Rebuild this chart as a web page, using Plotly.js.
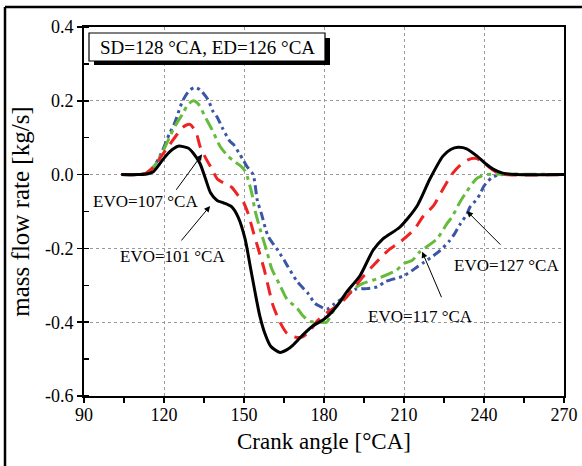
<!DOCTYPE html>
<html>
<head>
<meta charset="utf-8">
<script src="https://cdn.plot.ly/plotly-3.0.1.min.js"></script>
<style>html,body{margin:0;padding:0;background:#fff;}#chart{width:582px;height:466px;}</style>
</head>
<body>
<div id="chart"></div>
<script>
// ---- data ----
const seriesNames = ["EVO=101 °CA", "EVO=107 °CA", "EVO=117 °CA", "EVO=127 °CA"];

const xBlack = [104,110,113,116,119.6,122.3,125.3,129,131,133.5,135.5,137.5,139.9,142.5,145.5,147.8,150.4,152.3,154.1,155.9,157.9,160,163.5,166,168.4,172,176,180,183,186,188.6,193.5,198.4,202.1,208.5,214.9,219.7,224.6,227.5,230.3,233.5,237.4,240.5,243.4,247,252,270];
const yBlack = [0,0,0.001,0.008,0.041,0.063,0.077,0.072,0.058,0.03,-0.01,-0.05,-0.07,-0.077,-0.088,-0.115,-0.174,-0.247,-0.317,-0.382,-0.432,-0.465,-0.482,-0.475,-0.462,-0.435,-0.409,-0.392,-0.372,-0.345,-0.317,-0.274,-0.205,-0.174,-0.142,-0.085,-0.012,0.05,0.068,0.074,0.07,0.05,0.03,0.015,0.004,0,0];

const xRed = [104,110,113,116,119,122,125,127,129.7,132,133.5,136,138,140,143,145.5,147.4,149.6,151.5,153.4,155.5,157.5,160.9,163.5,166.1,169,172,175,177.7,181,185,188,194,198,204,209,214,217,221,224,228,231,234,236.5,239,242,245,248,270];
const yRed = [0,0,0.003,0.02,0.05,0.08,0.11,0.128,0.136,0.115,0.077,0.04,0.015,-0.012,-0.025,-0.035,-0.053,-0.072,-0.105,-0.153,-0.205,-0.255,-0.355,-0.4,-0.43,-0.44,-0.44,-0.42,-0.395,-0.375,-0.355,-0.336,-0.282,-0.25,-0.206,-0.18,-0.147,-0.115,-0.085,-0.047,0.001,0.025,0.04,0.044,0.038,0.02,0.005,0,0];

const xGreen = [104,110,113,116,119,122,124,127,129,131,133,135.4,138,141,144,146.5,148.5,150.4,151.5,153,154,156,158.6,160.4,163.5,166,170,172,174.75,178,181,183,186,190,194.6,198,200,207,210,213,216,222.4,226,228,231,233.6,237,239,241,270];
const yGreen = [0,0,0.003,0.02,0.055,0.1,0.13,0.165,0.19,0.2,0.19,0.157,0.122,0.077,0.05,0.035,0.025,0.01,-0.012,-0.053,-0.093,-0.147,-0.209,-0.255,-0.3,-0.336,-0.363,-0.382,-0.398,-0.4,-0.4,-0.375,-0.345,-0.315,-0.295,-0.287,-0.282,-0.26,-0.241,-0.233,-0.209,-0.174,-0.134,-0.115,-0.074,-0.045,-0.012,-0.004,0,0];

const xBlue = [104,110,113,116,119,122,124,127,129.5,131.6,133.5,136.5,138.4,140,142,144.75,146,148,149.6,151,153.4,155,156.5,159,162.75,165.4,166.5,170,174,176.6,178.5,181,184,188,192,196,200,203,210,215,217,221,223.5,227,229,231,233.6,234.75,237.4,238.5,240,241.5,243,245,247,270];
const yBlue = [0,0,0.003,0.02,0.058,0.11,0.14,0.2,0.228,0.236,0.23,0.203,0.171,0.155,0.125,0.09,0.082,0.06,0.041,0.023,0.0,-0.07,-0.105,-0.166,-0.206,-0.236,-0.25,-0.29,-0.322,-0.349,-0.357,-0.365,-0.35,-0.33,-0.31,-0.309,-0.304,-0.29,-0.274,-0.25,-0.24,-0.22,-0.206,-0.18,-0.16,-0.135,-0.107,-0.088,-0.066,-0.053,-0.031,-0.018,-0.008,-0.002,0,0];

const yTickVals = [-0.6,-0.4,-0.2,0.0,0.2,0.4];
const yTickText = ["-0.6","-0.4","-0.2","0.0","0.2","0.4"];
const xTickVals = [90,120,150,180,210,240,270];
const boxLabel = "SD=128 °CA, ED=126 °CA";

// ---- layout helpers ----
const W = 582, H = 466, ML = 84, MR = 18, MT = 27, MB = 70;
const PW = W - ML - MR, PH = H - MT - MB;
const px = x => (x - ML) / PW;
const py = y => (H - MB - y) / PH;
const FONT = "Liberation Serif, Times New Roman, serif";

function tr(x, y, name, color, dash, width) {
  return {x: x, y: y, name: name, type: "scatter", mode: "lines",
    line: {color: color, dash: dash, width: width, shape: "spline", smoothing: 0.7}};
}

const traces = [
  tr(xBlue, yBlue, seriesNames[3], "#3b56a6", "9px,4px,3px,4px,3px,4px", 3),
  tr(xGreen, yGreen, seriesNames[2], "#65bb3b", "13px,5px,4px,5px", 3),
  tr(xRed, yRed, seriesNames[1], "#ee2424", "13px,8px", 3),
  tr(xBlack, yBlack, seriesNames[0], "#000000", "solid", 3)
];

const textAnn = (x, y, t) => ({x: x, y: y, xref: "x", yref: "y", text: t, showarrow: false,
  font: {family: FONT, size: 17, color: "#000"}, xanchor: "center", yanchor: "middle"});
const arrowAnn = (x, y, ax, ay) => ({x: x, y: y, xref: "x", yref: "y", text: "", showarrow: true,
  ax: ax, ay: ay, arrowhead: 2, arrowsize: 1.2, arrowwidth: 1, arrowcolor: "#000", standoff: 0});

const layout = {
  width: W, height: H,
  margin: {l: ML, r: MR, t: MT, b: MB, pad: 0},
  paper_bgcolor: "#fff", plot_bgcolor: "#fff",
  showlegend: false,
  font: {family: FONT, color: "#000"},
  xaxis: {
    range: [90, 270], tickvals: xTickVals, ticks: "outside", ticklen: 5, tickwidth: 1.5, tickcolor: "#000",
    showgrid: true, gridcolor: "#9a9a9a", gridwidth: 1, griddash: "3px,3px",
    showline: true, linecolor: "#000", linewidth: 2, mirror: true, zeroline: false,
    minor: {dtick: 15, tick0: 90, ticks: "outside", ticklen: 5, tickwidth: 1.5, tickcolor: "#000", showgrid: false},
    tickfont: {family: FONT, size: 18, color: "#000"}, ticklabelstandoff: -4,
    title: {text: "Crank angle [°CA]", font: {family: FONT, size: 23, color: "#000"}, standoff: 9}
  },
  yaxis: {
    range: [-0.6, 0.4], tickvals: yTickVals, ticktext: yTickText, ticks: "outside", ticklen: 5, tickwidth: 1.5, tickcolor: "#000",
    showgrid: true, gridcolor: "#9a9a9a", gridwidth: 1, griddash: "3px,3px",
    showline: true, linecolor: "#000", linewidth: 2, mirror: true, zeroline: false,
    minor: {dtick: 0.1, tick0: -0.6, ticks: "inside", ticklen: 5, tickwidth: 1.5, tickcolor: "#000", showgrid: false},
    tickfont: {family: FONT, size: 18, color: "#000"},
    title: {text: "mass flow rate [kg/s]", font: {family: FONT, size: 25, color: "#000"}, standoff: 8}
  },
  shapes: [
    // outer frame (top and left edges)
    {type: "line", xref: "paper", yref: "paper", x0: px(5), x1: px(600), y0: py(7), y1: py(7), line: {color: "#000", width: 2.5}},
    {type: "line", xref: "paper", yref: "paper", x0: px(5), x1: px(5), y0: py(7), y1: py(480), line: {color: "#000", width: 2.5}},
    // label box shadow and box
    {type: "rect", xref: "paper", yref: "paper", x0: px(94), x1: px(330), y0: py(65), y1: py(38), fillcolor: "#000", line: {width: 0}, layer: "above"},
    {type: "rect", xref: "paper", yref: "paper", x0: px(89), x1: px(325), y0: py(61), y1: py(33), fillcolor: "#fff", line: {color: "#000", width: 1.2}, layer: "above"}
  ],
  annotations: [
    {xref: "paper", yref: "paper", x: px(207), y: py(47.5), text: boxLabel, showarrow: false,
     font: {family: FONT, size: 19, color: "#000"}, xanchor: "center", yanchor: "middle"},
    textAnn(112.9, -0.074, seriesNames[1]),
    textAnn(123, -0.223, seriesNames[0]),
    textAnn(216, -0.384, seriesNames[2]),
    textAnn(248.3, -0.247, seriesNames[3]),
    arrowAnn(134.3, 0.055, -27, 37),
    arrowAnn(137.3, -0.085, -30, 36),
    arrowAnn(216.8, -0.209, 20, 47),
    arrowAnn(233.6, -0.099, 35, 35)
  ]
};

Plotly.newPlot("chart", traces, layout, {displayModeBar: false, staticPlot: true});
</script>
</body>
</html>
